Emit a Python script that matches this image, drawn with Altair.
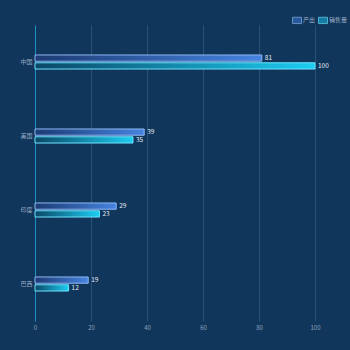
import altair as alt
import pandas as pd

categories = ["中国", "美国", "印度", "巴西"]
series = ["产出", "销售量"]
output_vals = [81, 39, 29, 19]
sales_vals = [100, 35, 23, 12]

rows = []
for c, o, s in zip(categories, output_vals, sales_vals):
    rows.append({"country": c, "series": series[0], "value": o})
    rows.append({"country": c, "series": series[1], "value": s})
df = pd.DataFrame(rows)

FONT = "Noto Sans CJK SC"

grad_out = {"gradient": "linear", "x1": 0, "y1": 0, "x2": 1, "y2": 0,
            "stops": [{"offset": 0, "color": "#1c3b73"}, {"offset": 1, "color": "#4683e0"}]}
grad_sale = {"gradient": "linear", "x1": 0, "y1": 0, "x2": 1, "y2": 0,
             "stops": [{"offset": 0, "color": "#0b4766"}, {"offset": 1, "color": "#1ccdf2"}]}

base = alt.Chart(df).encode(
    y=alt.Y("country:N", sort=categories, title=None,
            scale=alt.Scale(paddingInner=0.81, paddingOuter=0.405),
            axis=alt.Axis(domainColor="#1d8fc0", domainWidth=1, ticks=False, grid=False,
                          labelColor="#9aabc2", labelFontSize=6, labelPadding=3, labelFont=FONT)),
    yOffset=alt.YOffset("series:N", sort=series,
                        scale=alt.Scale(domain=series, paddingInner=0.2, paddingOuter=0)),
    x=alt.X("value:Q", title=None, scale=alt.Scale(domain=[0, 100]),
            axis=alt.Axis(values=[0, 20, 40, 60, 80, 100], domain=False, ticks=False,
                          grid=True, gridColor="#2b5077", gridWidth=1, labelFlush=False,
                          labelColor="#8fa2bb", labelFontSize=6, labelPadding=3, labelFont=FONT)),
)

bar_out = base.transform_filter(alt.datum.series == "产出").mark_bar(
    fill=grad_out, stroke="#8fb8f2", strokeWidth=1)
bar_sale = base.transform_filter(alt.datum.series == "销售量").mark_bar(
    fill=grad_sale, stroke="#6fe3ff", strokeWidth=1)

labels = base.mark_text(align="left", baseline="middle", dx=3, fontSize=6.5,
                        color="#e6edf5", font=FONT).encode(text="value:Q")

leg_scale_fill = alt.Scale(domain=series, range=["#3f7ad8", "#1cc4ec"])
leg_scale_stroke = alt.Scale(domain=series, range=["#8fb8f2", "#6fe3ff"])
legend_layer = base.transform_filter("false").mark_square(filled=True).encode(
    fill=alt.Fill("series:N", scale=leg_scale_fill,
                  legend=alt.Legend(title=None, orient="none", legendX=257, legendY=-10,
                                    direction="horizontal", symbolType="M-1,-0.7H1V0.7H-1Z",
                                    symbolSize=81, symbolOpacity=1, symbolStrokeWidth=1,
                                    labelColor="#9fb0c8", labelFontSize=6, labelFont=FONT,
                                    columnPadding=0, labelOffset=1, padding=0)),
    stroke=alt.Stroke("series:N", scale=leg_scale_stroke, legend=alt.Legend(title=None)),
)

chart = alt.layer(bar_out, bar_sale, labels, legend_layer).properties(
    width=280, height=296,
    autosize=alt.AutoSizeParams(type="none"),
    padding={"left": 35, "top": 25, "right": 35, "bottom": 29},
    background="#10365c",
).configure(font=FONT).configure_view(strokeWidth=0, strokeOpacity=0)

chart.save("out.html", embed_options={"renderer": "svg", "actions": False})
